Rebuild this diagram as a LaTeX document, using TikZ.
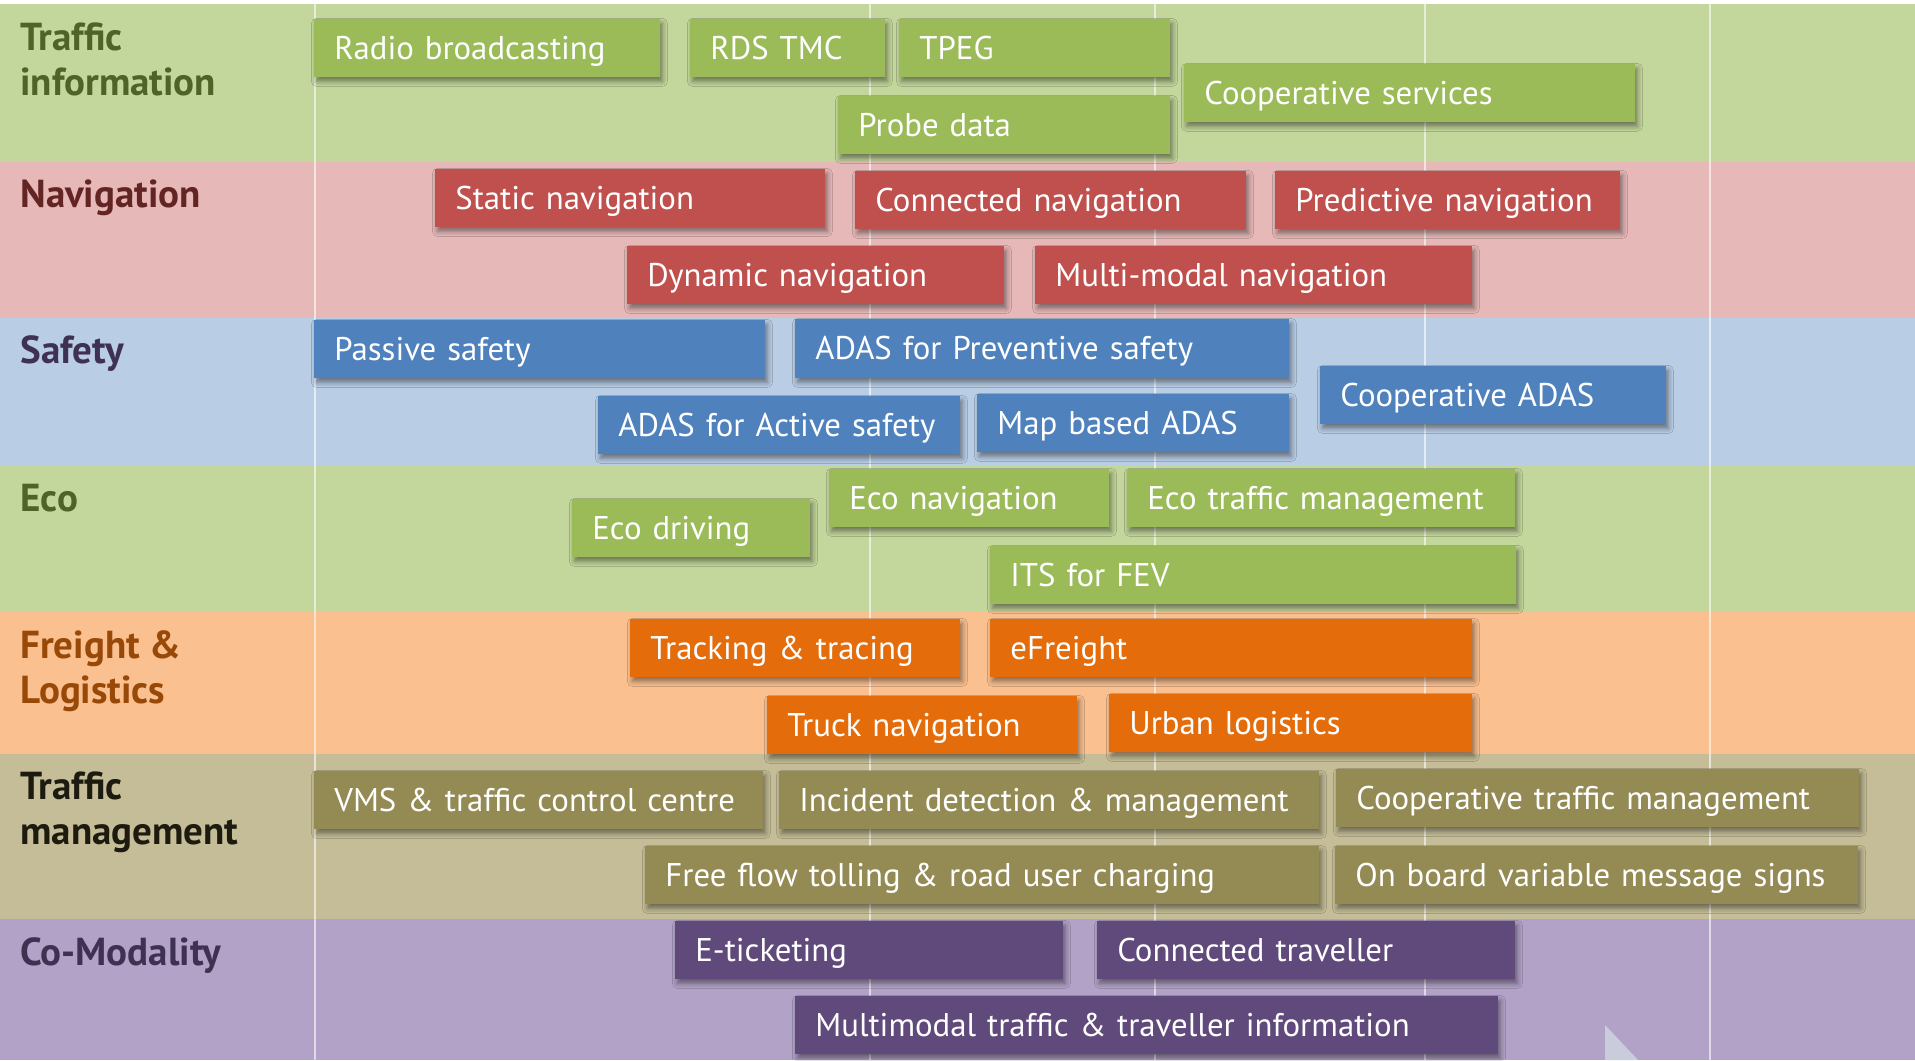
\documentclass[tikz,border=0pt]{standalone}
\usepackage{fontspec}
\setmainfont{PT Sans}
\usetikzlibrary{shadows.blur}
\definecolor{bandG}{HTML}{C3D69B}
\definecolor{boxG}{HTML}{9BBB59}
\definecolor{labG}{HTML}{4F6228}
\definecolor{bandR}{HTML}{E6B9B8}
\definecolor{boxR}{HTML}{C0504D}
\definecolor{labR}{HTML}{632523}
\definecolor{bandB}{HTML}{B9CDE5}
\definecolor{boxB}{HTML}{4F81BD}
\definecolor{labP}{HTML}{3F3151}
\definecolor{bandO}{HTML}{FAC090}
\definecolor{boxO}{HTML}{E46C0A}
\definecolor{labO}{HTML}{984807}
\definecolor{bandT}{HTML}{C4BD97}
\definecolor{boxT}{HTML}{948A54}
\definecolor{labT}{HTML}{1D1B10}
\definecolor{bandV}{HTML}{B2A2C7}
\definecolor{boxV}{HTML}{604A7B}
\definecolor{cornergray}{HTML}{C9CCDA}
\newcommand\mybox[7]{%
  \pgfmathsetmacro\bxw{(#4-#2)*0.5}%
  \pgfmathsetmacro\bxh{(#5-#3)*0.5}%
  \pgfmathsetmacro\bxt{\bxw-20}%
  \node[itembox, fill=#6, minimum width=\bxw pt, minimum height=\bxh pt, text width=\bxt pt] (#1) at (#2,#3) {#7};}
\begin{document}
\begin{tikzpicture}[x=0.5pt,y=-0.5pt,
  itembox/.style={anchor=north west, inner xsep=10pt, inner ysep=0pt, text=white,
    font=\fontsize{16.4}{18}\selectfont, align=left, text height=11pt, text depth=0pt,
    blur shadow={shadow xshift=1pt, shadow yshift=-2pt, shadow blur radius=2.5pt, shadow opacity=45}},
  lab/.style={anchor=base west, inner sep=0pt, align=left, font=\fontsize{19.5}{22.5}\selectfont\bfseries},
  vline/.style={draw=white, draw opacity=0.6, line width=1pt}]
\useasboundingbox (0,0) rectangle (1915,1060);
\fill[white] (0,0) rectangle (1915,1060);
% bands
\fill[bandG] (0,4) rectangle (1915,162);
\fill[bandR] (0,162) rectangle (1915,318);
\fill[bandB] (0,318) rectangle (1915,466);
\fill[bandG] (0,466) rectangle (1915,612);
\fill[bandO] (0,612) rectangle (1915,754);
\fill[bandT] (0,754) rectangle (1915,919);
\fill[bandV] (0,919) rectangle (1915,1060);
% grid lines
\foreach \gx in {315,870,1155,1425,1710} \draw[vline] (\gx,4) -- (\gx,1060);
% corner
\fill[cornergray] (1605,1025) -- (1605,1060) -- (1638,1060) -- cycle;
% labels (base = baseline of last line)
\node[lab, text=labG] (lti) at (20,95) {Traffic\\information};
\node[lab, text=labR] (lnav) at (20,207) {Navigation};
\node[lab, text=labP] (lsaf) at (20,363) {Safety};
\node[lab, text=labG] (leco) at (20,511) {Eco};
\node[lab, text=labO] (lfre) at (20,703) {Freight \&\\Logistics};
\node[lab, text=labT] (ltm) at (20,844) {Traffic\\management};
\node[lab, text=labP] (lcom) at (20,965) {Co-Modality};
% traffic information
\mybox{radio}{314}{19}{660}{77}{boxG}{Radio broadcasting}
\mybox{rds}{690}{19}{885}{77}{boxG}{RDS TMC}
\mybox{tpeg}{899}{19}{1170}{77}{boxG}{TPEG}
\mybox{probe}{838}{96}{1170}{154}{boxG}{Probe data}
\mybox{coop}{1184}{64}{1635}{122}{boxG}{Cooperative services}
% navigation
\mybox{static}{435}{169}{825}{227}{boxR}{Static navigation}
\mybox{connected}{855}{171}{1246}{229}{boxR}{Connected navigation}
\mybox{predictive}{1275}{171}{1620}{229}{boxR}{Predictive navigation}
\mybox{dynamic}{627}{246}{1004}{304}{boxR}{Dynamic navigation}
\mybox{mmnav}{1035}{246}{1472}{304}{boxR}{Multi-modal navigation}
% safety
\mybox{passive}{314}{320}{765}{378}{boxB}{Passive safety}
\mybox{preventive}{795}{319}{1289}{378}{boxB}{ADAS for Preventive safety}
\mybox{active}{598}{396}{960}{454}{boxB}{ADAS for Active safety}
\mybox{mapadas}{977}{394}{1289}{452}{boxB}{Map based ADAS}
\mybox{coopadas}{1320}{366}{1666}{424}{boxB}{Cooperative ADAS}
% eco
\mybox{ecodriving}{572}{499}{810}{557}{boxG}{Eco driving}
\mybox{econav}{829}{469}{1109}{527}{boxG}{Eco navigation}
\mybox{ecotm}{1127}{469}{1515}{527}{boxG}{Eco traffic management}
\mybox{fev}{990}{546}{1516}{604}{boxG}{ITS for FEV}
% freight
\mybox{tracking}{630}{619}{960}{677}{boxO}{Tracking \& tracing}
\mybox{efreight}{990}{619}{1472}{677}{boxO}{eFreight}
\mybox{truck}{767}{696}{1077}{754}{boxO}{Truck navigation}
\mybox{urban}{1109}{694}{1472}{752}{boxO}{Urban logistics}
% traffic management
\mybox{vms}{314}{771}{763}{829}{boxT}{VMS \& traffic control centre}
\mybox{incident}{779}{771}{1319}{829}{boxT}{Incident detection \& management}
\mybox{cooptm}{1336}{769}{1859}{827}{boxT}{Cooperative traffic management}
\mybox{tolling}{645}{846}{1319}{904}{boxT}{Free flow tolling \& road user charging}
\mybox{onboard}{1335}{846}{1858}{904}{boxT}{On board variable message signs}
% co-modality
\mybox{eticket}{675}{921}{1063}{979}{boxV}{E-ticketing}
\mybox{traveller}{1097}{921}{1515}{979}{boxV}{Connected traveller}
\mybox{mmti}{795}{996}{1498}{1054}{boxV}{Multimodal traffic \& traveller information}
\end{tikzpicture}
\end{document}
